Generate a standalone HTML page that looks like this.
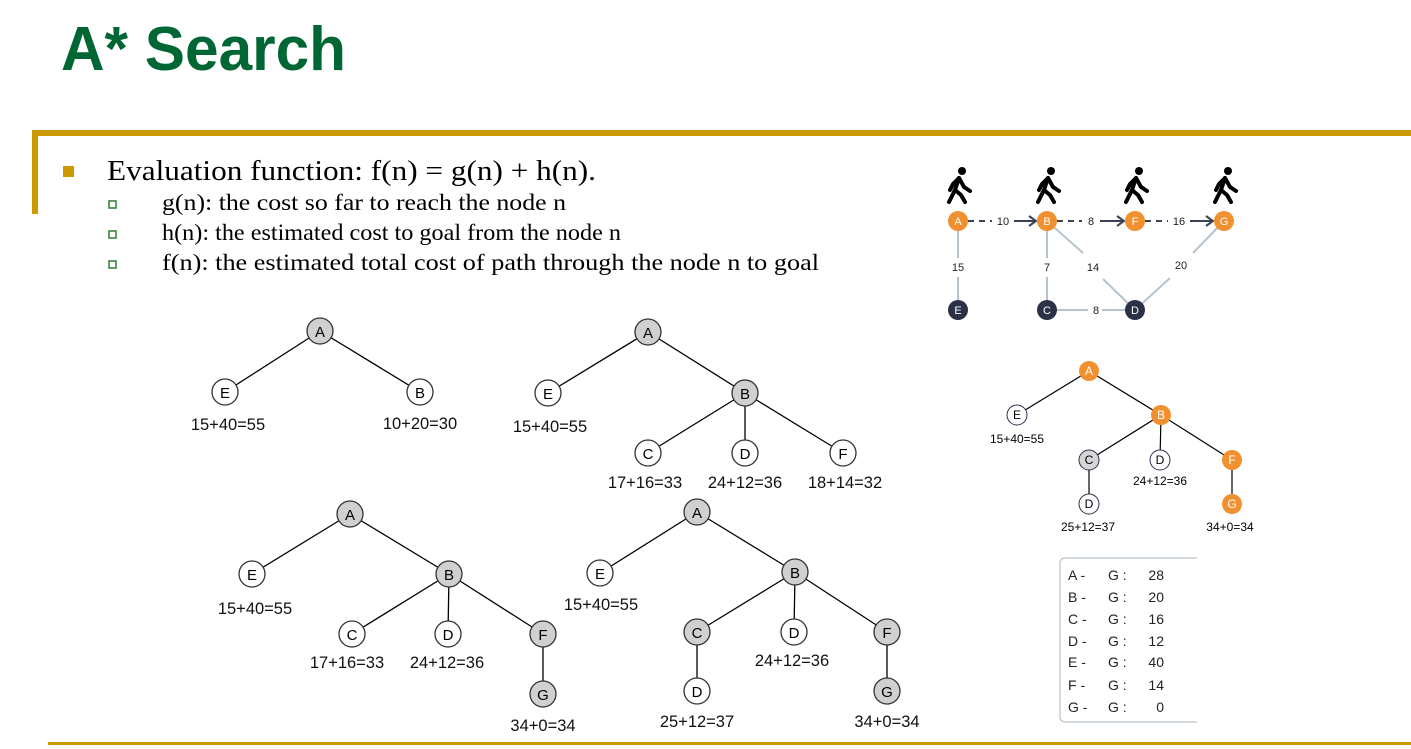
<!DOCTYPE html>
<html><head><meta charset="utf-8"><style>
html,body{margin:0;padding:0;background:#fff;}
svg{display:block;}
</style></head><body>
<svg width="1411" height="749" viewBox="0 0 1411 749" xmlns="http://www.w3.org/2000/svg" font-family="Liberation Sans, sans-serif">
<text x="61" y="70" font-size="62" font-weight="bold" fill="#006633" textLength="285" lengthAdjust="spacingAndGlyphs">A* Search</text>
<rect x="32" y="130" width="1379" height="6" fill="#cc9900"/>
<rect x="32" y="130" width="6" height="84" fill="#cc9900"/>
<rect x="48" y="742" width="1363" height="3" fill="#cc9900"/>
<rect x="63" y="166" width="11" height="11" fill="#cc9900"/>
<g font-family="Liberation Serif, serif" fill="#000">
<text x="107" y="180" font-size="28" textLength="489" lengthAdjust="spacingAndGlyphs">Evaluation function: f(n) = g(n) + h(n).</text>
<text x="162" y="210" font-size="23" textLength="404" lengthAdjust="spacingAndGlyphs">g(n): the cost so far to reach the node n</text>
<text x="162" y="240" font-size="23" textLength="459" lengthAdjust="spacingAndGlyphs">h(n): the estimated cost to goal from the node n</text>
<text x="162" y="270" font-size="23" textLength="657" lengthAdjust="spacingAndGlyphs">f(n): the estimated total cost of path through the node n to goal</text>
</g>
<g fill="#fff" stroke="#2e7d32" stroke-width="1.5">
<rect x="109" y="201" width="7" height="7"/><rect x="109" y="231" width="7" height="7"/><rect x="109" y="261" width="7" height="7"/>
</g>

<!-- trees -->
<g stroke="#000" stroke-width="1.3">
<line x1="320" y1="331" x2="225" y2="392"/><line x1="320" y1="331" x2="420" y2="392"/>
<line x1="648" y1="332" x2="548" y2="393"/><line x1="648" y1="332" x2="745" y2="393"/>
<line x1="745" y1="393" x2="648" y2="453"/><line x1="745" y1="393" x2="745" y2="453"/><line x1="745" y1="393" x2="843" y2="453"/>
<line x1="350" y1="514" x2="252" y2="574"/><line x1="350" y1="514" x2="449" y2="574"/>
<line x1="449" y1="574" x2="352" y2="634"/><line x1="449" y1="574" x2="448" y2="634"/><line x1="449" y1="574" x2="543" y2="634"/><line x1="543" y1="634" x2="543" y2="694"/>
<line x1="697" y1="512" x2="600" y2="573"/><line x1="697" y1="512" x2="795" y2="572"/>
<line x1="795" y1="572" x2="697" y2="632"/><line x1="795" y1="572" x2="794" y2="632"/><line x1="795" y1="572" x2="887" y2="632"/>
<line x1="697" y1="632" x2="697" y2="691"/><line x1="887" y1="632" x2="887" y2="691"/>
</g>
<g stroke="#333" stroke-width="1.3" font-size="15">
<g fill="#d0d0d0"><circle cx="320" cy="331" r="13"/><circle cx="648" cy="332" r="13"/><circle cx="745" cy="393" r="13"/><circle cx="350" cy="514" r="13"/><circle cx="449" cy="574" r="13"/><circle cx="543" cy="634" r="13"/><circle cx="543" cy="694" r="13"/><circle cx="697" cy="512" r="13"/><circle cx="795" cy="572" r="13"/><circle cx="697" cy="632" r="13"/><circle cx="887" cy="632" r="13"/><circle cx="887" cy="691" r="13"/></g>
<g fill="#fff"><circle cx="225" cy="392" r="13"/><circle cx="420" cy="392" r="13"/><circle cx="548" cy="393" r="13"/><circle cx="648" cy="453" r="13"/><circle cx="745" cy="453" r="13"/><circle cx="843" cy="453" r="13"/><circle cx="252" cy="574" r="13"/><circle cx="352" cy="634" r="13"/><circle cx="448" cy="634" r="13"/><circle cx="600" cy="573" r="13"/><circle cx="794" cy="632" r="13"/><circle cx="697" cy="691" r="13"/></g>
</g>
<g font-size="15" text-anchor="middle" fill="#000">
<text x="320" y="337">A</text><text x="225" y="398">E</text><text x="420" y="398">B</text>
<text x="648" y="338">A</text><text x="548" y="399">E</text><text x="745" y="399">B</text><text x="648" y="459">C</text><text x="745" y="459">D</text><text x="843" y="459">F</text>
<text x="350" y="520">A</text><text x="252" y="580">E</text><text x="449" y="580">B</text><text x="352" y="640">C</text><text x="448" y="640">D</text><text x="543" y="640">F</text><text x="543" y="700">G</text>
<text x="697" y="518">A</text><text x="600" y="579">E</text><text x="795" y="578">B</text><text x="697" y="638">C</text><text x="794" y="638">D</text><text x="887" y="638">F</text><text x="697" y="697">D</text><text x="887" y="697">G</text>
</g>
<g font-size="16.5" text-anchor="middle" fill="#111">
<text x="228" y="430">15+40=55</text><text x="420" y="429">10+20=30</text>
<text x="550" y="432">15+40=55</text><text x="645" y="488">17+16=33</text><text x="745" y="488">24+12=36</text><text x="845" y="488">18+14=32</text>
<text x="255" y="614">15+40=55</text><text x="347" y="668">17+16=33</text><text x="447" y="668">24+12=36</text><text x="543" y="731">34+0=34</text>
<text x="601" y="610">15+40=55</text><text x="792" y="666">24+12=36</text><text x="697" y="727">25+12=37</text><text x="887" y="727">34+0=34</text>
</g>

<!-- graph top right -->
<g stroke="#b5c3cc" stroke-width="2">
<line x1="958" y1="221" x2="958" y2="258"/><line x1="958" y1="277" x2="958" y2="310"/>
<line x1="1047" y1="221" x2="1047" y2="258"/><line x1="1047" y1="277" x2="1047" y2="310"/>
<line x1="1047" y1="221" x2="1083" y2="253"/><line x1="1103" y1="279" x2="1135" y2="310"/>
<line x1="1224" y1="221" x2="1193" y2="253"/><line x1="1170" y1="278" x2="1135" y2="310"/>
<line x1="1047" y1="310" x2="1088" y2="310"/><line x1="1102" y1="310" x2="1135" y2="310"/>
</g>
<g stroke="#3a4256" stroke-width="2" stroke-dasharray="6,5" fill="none">
<line x1="968" y1="221" x2="992" y2="221"/><line x1="1057" y1="221" x2="1082" y2="221"/><line x1="1145" y1="221" x2="1168" y2="221"/>
</g>
<g stroke="#3a4256" stroke-width="2" fill="none">
<line x1="1014" y1="221" x2="1036" y2="221"/><polyline points="1029,216 1036,221 1029,226"/>
<line x1="1100" y1="221" x2="1124" y2="221"/><polyline points="1117,216 1124,221 1117,226"/>
<line x1="1190" y1="221" x2="1213" y2="221"/><polyline points="1206,216 1213,221 1206,226"/>
</g>
<g fill="#f0902f"><circle cx="958" cy="221" r="10"/><circle cx="1047" cy="221" r="10"/><circle cx="1135" cy="221" r="10"/><circle cx="1224" cy="221" r="10"/></g>
<g fill="#2b3248"><circle cx="958" cy="310" r="10"/><circle cx="1047" cy="310" r="10"/><circle cx="1135" cy="310" r="10"/></g>
<g font-size="11" text-anchor="middle" fill="#fff">
<text x="958" y="225">A</text><text x="1047" y="225">B</text><text x="1135" y="225">F</text><text x="1224" y="225">G</text>
<text x="958" y="314">E</text><text x="1047" y="314">C</text><text x="1135" y="314">D</text>
</g>
<g font-size="11" text-anchor="middle" fill="#222">
<text x="1003" y="225">10</text><text x="1091" y="225">8</text><text x="1179" y="225">16</text>
<text x="958" y="271">15</text><text x="1047" y="271">7</text><text x="1093" y="271">14</text><text x="1181" y="269">20</text><text x="1096" y="314">8</text>
</g>
<!-- walkers -->
<g id="w" fill="none" stroke="#000" stroke-width="4" stroke-linecap="round" stroke-linejoin="round">
<circle cx="962" cy="171" r="4" fill="#000" stroke="none"/>
<polyline points="949,202 955,190 959,178 953,184 950,190"/>
<polyline points="959,178 964,187 970,191"/>
<polyline points="955,190 961,195 965,202"/>
</g>
<use href="#w" x="89"/><use href="#w" x="177"/><use href="#w" x="266"/>

<!-- right tree -->
<g stroke="#000" stroke-width="1.2">
<line x1="1089" y1="371" x2="1017" y2="415"/><line x1="1089" y1="371" x2="1161" y2="415"/>
<line x1="1161" y1="415" x2="1089" y2="460"/><line x1="1161" y1="415" x2="1160" y2="460"/><line x1="1161" y1="415" x2="1232" y2="460"/>
<line x1="1089" y1="460" x2="1089" y2="504"/><line x1="1232" y1="460" x2="1232" y2="504"/>
</g>
<g fill="#f0902f"><circle cx="1089" cy="371" r="10"/><circle cx="1161" cy="415" r="10"/><circle cx="1232" cy="460" r="10"/><circle cx="1232" cy="504" r="10"/></g>
<g stroke="#2b3248" stroke-width="1"><circle cx="1017" cy="415" r="10" fill="#fff"/><circle cx="1089" cy="460" r="10" fill="#d5d5d5"/><circle cx="1160" cy="460" r="10" fill="#fff"/><circle cx="1089" cy="504" r="10" fill="#fff"/></g>
<g font-size="12" text-anchor="middle">
<g fill="#fff"><text x="1089" y="375">A</text><text x="1161" y="419">B</text><text x="1232" y="464">F</text><text x="1232" y="508">G</text></g>
<g fill="#000"><text x="1017" y="419">E</text><text x="1089" y="464">C</text><text x="1160" y="464">D</text><text x="1089" y="508">D</text>
<text x="1017" y="443">15+40=55</text><text x="1160" y="485">24+12=36</text><text x="1088" y="531">25+12=37</text><text x="1230" y="531">34+0=34</text></g>
</g>
<path d="M1197,558 H1066 Q1060,558 1060,564 V716 Q1060,722 1066,722 H1197" fill="none" stroke="#b8c4cc" stroke-width="1.2"/>
<g font-size="14" fill="#222">
<g><text x="1068" y="580">A -</text><text x="1108" y="580">G :</text><text x="1164" y="580" text-anchor="end">28</text></g>
<g><text x="1068" y="602">B -</text><text x="1108" y="602">G :</text><text x="1164" y="602" text-anchor="end">20</text></g>
<g><text x="1068" y="624">C -</text><text x="1108" y="624">G :</text><text x="1164" y="624" text-anchor="end">16</text></g>
<g><text x="1068" y="646">D -</text><text x="1108" y="646">G :</text><text x="1164" y="646" text-anchor="end">12</text></g>
<g><text x="1068" y="667">E -</text><text x="1108" y="667">G :</text><text x="1164" y="667" text-anchor="end">40</text></g>
<g><text x="1068" y="690">F -</text><text x="1108" y="690">G :</text><text x="1164" y="690" text-anchor="end">14</text></g>
<g><text x="1068" y="712">G -</text><text x="1108" y="712">G :</text><text x="1164" y="712" text-anchor="end">0</text></g>
</g>
</svg>
</body></html>
